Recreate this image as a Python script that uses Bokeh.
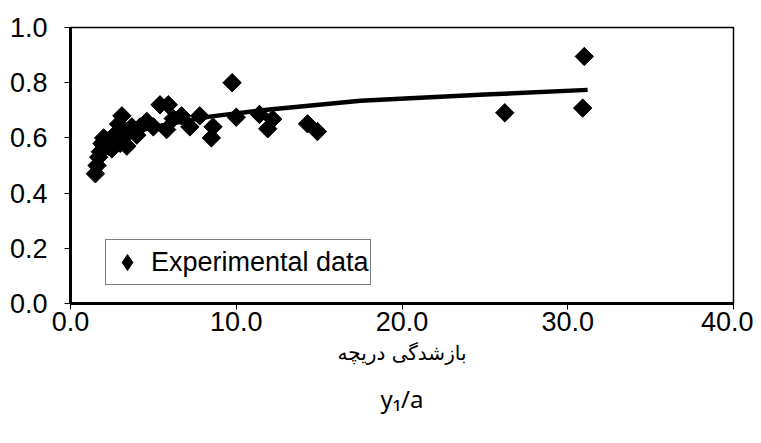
import numpy as np
from bokeh.plotting import figure
from bokeh.models import FixedTicker, PrintfTickFormatter, Range1d, Title, Legend, LegendItem
from bokeh.embed import file_html
from bokeh.resources import INLINE

exp_x = [1.5, 1.6, 1.7, 1.8, 1.9, 2.0, 2.2, 2.3, 2.5, 2.6, 2.8, 2.9, 3.0, 3.1, 3.2,
         3.4, 3.5, 3.7, 4.0, 4.2, 4.6, 5.0, 5.4, 5.8, 5.9, 6.2, 6.7, 7.2, 7.8, 8.5,
         8.6, 9.75, 10.0, 11.4, 11.9, 12.2, 14.3, 14.9, 26.2, 30.9, 31.0]
exp_y = [0.47, 0.50, 0.53, 0.55, 0.58, 0.60, 0.59, 0.57, 0.56, 0.60, 0.62, 0.65, 0.58, 0.68, 0.63,
         0.57, 0.62, 0.64, 0.61, 0.64, 0.66, 0.64, 0.72, 0.63, 0.72, 0.67, 0.68, 0.64, 0.68, 0.60,
         0.64, 0.80, 0.675, 0.685, 0.633, 0.668, 0.651, 0.623, 0.691, 0.708, 0.895]

# Trend line
trend_x = [1.5, 2.0, 3.0, 4.0, 6.0, 8.5, 12.0, 17.5, 25.0, 31.2]
trend_y = [0.567, 0.584, 0.608, 0.625, 0.651, 0.678, 0.703, 0.735, 0.757, 0.774]

x_ticks = [0, 10, 20, 30, 40]
y_ticks = [0.0, 0.2, 0.4, 0.6, 0.8, 1.0]

x_label_fa = "بازشدگی دریچه"
x_label_en = "y₁/a"
legend_text = "Experimental data"

W, H = 753, 435
p = figure(width=W, height=H, output_backend="svg", toolbar_location=None,
           x_range=Range1d(0, 40), y_range=Range1d(0, 1),
           min_border_left=70, min_border_right=20, min_border_top=27,
           min_border_bottom=132)

p.line(trend_x, trend_y, line_color="black", line_width=4.5)
p.scatter(exp_x, exp_y, marker="square", angle=np.pi / 4, size=13,
          fill_color="black", line_color="black")
# same series, hidden: only supplies the diamond symbol of the legend
legend_marker = p.scatter(exp_x, exp_y, marker="diamond", fill_color="black",
                          line_color="black", visible=False)

p.xgrid.visible = False
p.ygrid.visible = False
p.outline_line_color = "black"
p.outline_line_width = 1.5
p.background_fill_color = "white"
p.border_fill_color = "white"

for ax in (p.xaxis[0], p.yaxis[0]):
    ax.axis_line_color = "black"
    ax.axis_line_width = 3
    ax.major_tick_in = 0
    ax.major_tick_out = 6
    ax.major_tick_line_color = "black"
    ax.minor_tick_line_color = None
    ax.major_label_text_font = "Liberation Sans"
    ax.major_label_text_font_size = "27px"
    ax.major_label_text_color = "black"
    ax.formatter = PrintfTickFormatter(format="%.1f")

p.xaxis[0].ticker = FixedTicker(ticks=x_ticks)
p.yaxis[0].ticker = FixedTicker(ticks=y_ticks)
p.xaxis[0].major_label_standoff = 2
p.yaxis[0].major_label_standoff = 17

lg = Legend(items=[LegendItem(label=legend_text, renderers=[legend_marker])])
lg.location = (35, 18)
lg.border_line_color = "black"
lg.border_line_width = 1
lg.label_text_font = "Liberation Sans"
lg.label_text_font_size = "27px"
lg.label_text_color = "black"
lg.padding = 1
lg.margin = 0
lg.spacing = 0
lg.glyph_width = 40
lg.glyph_height = 42
lg.label_standoff = 4
lg.background_fill_alpha = 1
p.add_layout(lg, "center")

p.add_layout(Title(text=x_label_fa, align="center", text_font="DejaVu Sans",
                   text_font_size="20px", text_font_style="normal", text_color="black",
                   standoff=11), "below")
p.add_layout(Title(text=x_label_en, align="center", text_font="Noto Sans",
                   text_font_size="24px", text_font_style="normal", text_color="black",
                   standoff=19), "below")

open("out.html", "w").write(file_html(p, INLINE))
